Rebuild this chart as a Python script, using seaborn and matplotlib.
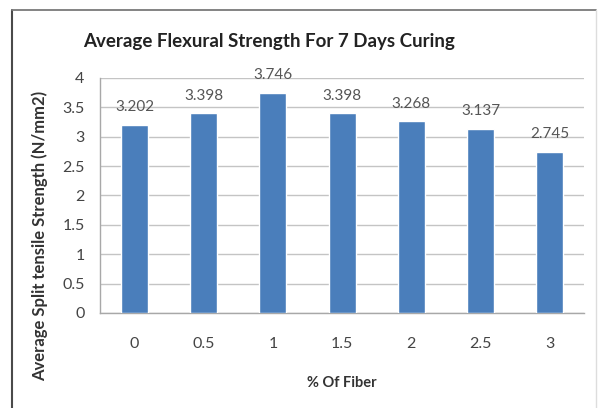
import matplotlib
matplotlib.use("Agg")
import matplotlib.pyplot as plt
import seaborn as sns
import pandas as pd
from matplotlib.lines import Line2D

# data
fiber = ["0", "0.5", "1", "1.5", "2", "2.5", "3"]
strength = [3.202, 3.398, 3.746, 3.398, 3.268, 3.137, 2.745]

df = pd.DataFrame({"fiber": fiber, "strength": strength})

sns.set_theme(style="white")
plt.rcParams['font.family'] = ['Lato', 'DejaVu Sans']

fig = plt.figure(figsize=(5.98, 4.08), dpi=100)
ax = fig.add_axes([0.167, 0.233, 0.810, 0.576])

sns.barplot(data=df, x="fiber", y="strength", color="#4A7EBB", width=0.39,
            saturation=1, ax=ax, zorder=3)

ax.set_ylim(0, 4)
ax.set_yticks([0, 0.5, 1, 1.5, 2, 2.5, 3, 3.5, 4])
ax.set_yticklabels(["0", "0.5", "1", "1.5", "2", "2.5", "3", "3.5", "4"])
ax.grid(axis="y", color="#c4c4c4", linewidth=1.0, zorder=0)
ax.set_axisbelow(True)

for s in ["top", "right"]:
    ax.spines[s].set_visible(False)
for s in ["left", "bottom"]:
    ax.spines[s].set_color("#a8a8a8")
    ax.spines[s].set_linewidth(1.0)

ax.tick_params(axis="y", length=5, color="#a8a8a8", labelsize=11.5, labelcolor="#444444", pad=6)
ax.tick_params(axis="x", length=0, labelsize=11.5, labelcolor="#444444", pad=17)

# value labels above each bar
for i, v in enumerate(strength):
    ax.annotate(f"{v:.3f}", (i, v), xytext=(0, 12.5), textcoords="offset points",
                ha="center", va="center", fontsize=11, color="#555555")

ax.set_xlabel("% Of Fiber", fontsize=10.5, fontweight="bold", color="#333333", labelpad=18)
ax.set_ylabel("")

fig.text(40 / 598, 1 - 236 / 408, "Average Split tensile Strength (N/mm2)", rotation=90,
         ha="center", va="center", fontsize=12, fontweight="bold", color="#333333")

fig.text(269 / 598, 1 - 42 / 408, "Average Flexural Strength For 7 Days Curing",
         ha="center", va="center", fontsize=13.5, fontweight="bold", color="#222222")

# outer chart frame
fig.lines.append(Line2D([12 / 598, 12 / 598], [0, 1 - 10 / 408], transform=fig.transFigure,
                        color="#4a4a4a", linewidth=1.5))
fig.lines.append(Line2D([12 / 598, 596 / 598], [1 - 10 / 408, 1 - 10 / 408],
                        transform=fig.transFigure, color="#7a7a7a", linewidth=1.3))
fig.lines.append(Line2D([596 / 598, 596 / 598], [0, 1 - 10 / 408], transform=fig.transFigure,
                        color="#dddddd", linewidth=1.0))

fig.savefig("out.png", dpi=100)
